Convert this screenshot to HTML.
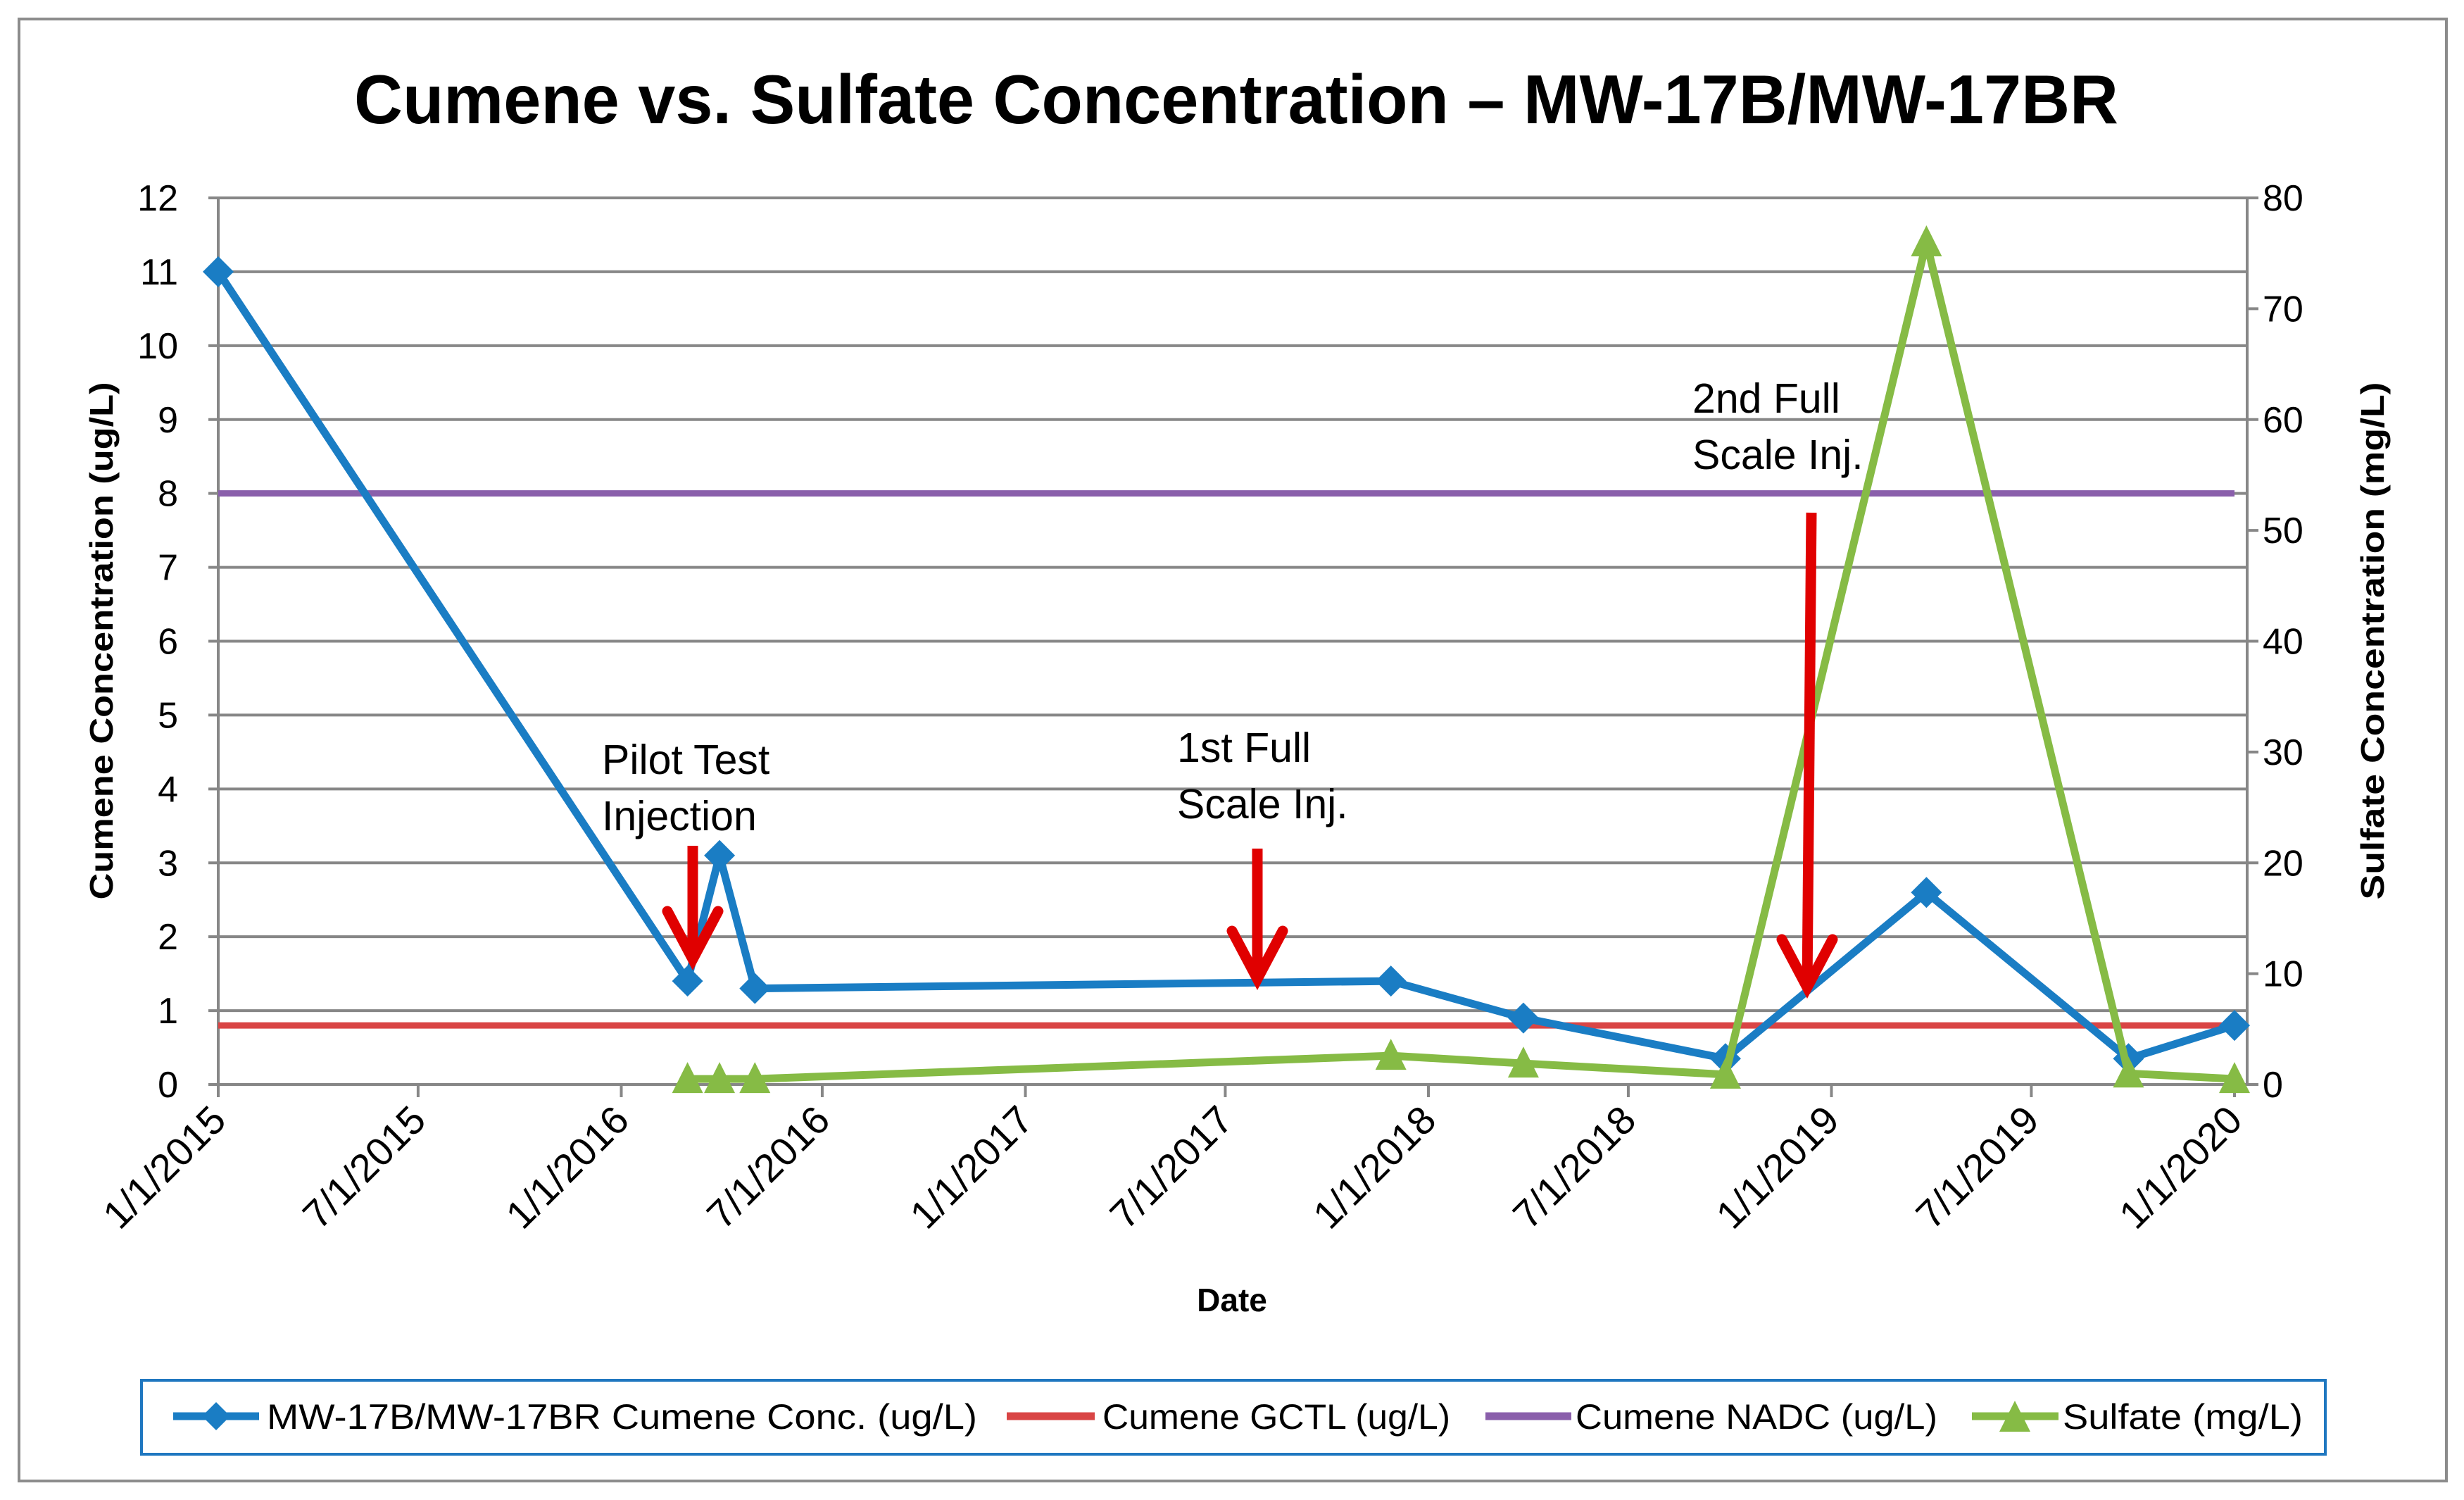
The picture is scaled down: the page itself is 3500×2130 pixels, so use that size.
<!DOCTYPE html>
<html><head><meta charset="utf-8"><style>
html,body{margin:0;padding:0;background:#fff;}
svg{display:block;font-family:"Liberation Sans",sans-serif;}
</style></head><body>
<svg id="chart" width="3500" height="2130" viewBox="0 0 3500 2130" xmlns="http://www.w3.org/2000/svg">
<rect x="27" y="27" width="3448" height="2076" fill="#fff" stroke="#8c8c8c" stroke-width="4"/>
<text x="1756" y="175" text-anchor="middle" font-size="98" font-weight="bold" textLength="2506" lengthAdjust="spacingAndGlyphs">Cumene vs. Sulfate Concentration – MW-17B/MW-17BR</text>
<g id="grid"></g>
<g id="axes"></g>
<g id="series"></g>
<g id="notes"></g>
<text transform="translate(160,910) rotate(-90)" text-anchor="middle" font-size="46" font-weight="bold" textLength="735" lengthAdjust="spacingAndGlyphs">Cumene Concentration (ug/L)</text>
<text transform="translate(3386,910) rotate(-90)" text-anchor="middle" font-size="46" font-weight="bold" textLength="735" lengthAdjust="spacingAndGlyphs">Sulfate Concentration (mg/L)</text>
<text x="1750" y="1862" text-anchor="middle" font-size="46" font-weight="bold">Date</text>
<g>
<rect x="201" y="1960" width="3102" height="105" fill="#fff" stroke="#1f77c0" stroke-width="4"/>
<g>
<line x1="246" y1="2011" x2="368" y2="2011" stroke="#1a7dc4" stroke-width="11"/>
<path d="M307 1991 L327 2011 L307 2031 L287 2011Z" fill="#1a7dc4"/>
<text x="379" y="2029" font-size="50" textLength="1009" lengthAdjust="spacingAndGlyphs">MW-17B/MW-17BR Cumene Conc. (ug/L)</text></g>
<g>
<line x1="1430" y1="2011" x2="1555" y2="2011" stroke="#d94545" stroke-width="11"/>
<text x="1566" y="2029" font-size="50" textLength="494" lengthAdjust="spacingAndGlyphs">Cumene GCTL (ug/L)</text></g>
<g>
<line x1="2110" y1="2011" x2="2232" y2="2011" stroke="#8a5fab" stroke-width="11"/>
<text x="2238" y="2029" font-size="50" textLength="514" lengthAdjust="spacingAndGlyphs">Cumene NADC (ug/L)</text></g>
<g>
<line x1="2801" y1="2011" x2="2924" y2="2011" stroke="#86bb45" stroke-width="11"/>
<path d="M2862 1989 L2884 2033 L2840 2033Z" fill="#86bb45"/>
<text x="2930" y="2029" font-size="50" textLength="341" lengthAdjust="spacingAndGlyphs">Sulfate (mg/L)</text></g>
</g>
</svg>
<script>
const cumeneDates = ["2015-01-01","2016-03-01","2016-03-30","2016-05-01","2017-11-28","2018-03-28","2018-09-27","2019-03-28","2019-09-27","2020-01-01"];
const cumeneValues = [11, 1.4, 3.1, 1.3, 1.4, 0.9, 0.35, 2.6, 0.35, 0.8];
const sulfateDates = ["2016-03-01","2016-03-30","2016-05-01","2017-11-28","2018-03-28","2018-09-27","2019-03-28","2019-09-27","2020-01-01"];
const sulfateValues = [0.5, 0.5, 0.5, 2.6, 1.9, 0.9, 76, 1.0, 0.5];
const gctlValue = 0.8;
const nadcValue = 8;
const leftTicks = [0,1,2,3,4,5,6,7,8,9,10,11,12];
const rightTicks = [0,10,20,30,40,50,60,70,80];
const xTickDates = ["2015-01-01","2015-07-01","2016-01-01","2016-07-01","2017-01-01","2017-07-01","2018-01-01","2018-07-01","2019-01-01","2019-07-01","2020-01-01"];
const xTickLabels = ["1/1/2015","7/1/2015","1/1/2016","7/1/2016","1/1/2017","7/1/2017","1/1/2018","7/1/2018","1/1/2019","7/1/2019","1/1/2020"];

const NS="http://www.w3.org/2000/svg";
const X0=310, X1=3174, XEND=3192, YB=1540, YT=281;
const t0=Date.parse("2015-01-01"), t1=Date.parse("2020-01-01");
function xs(d){return X0+(Date.parse(d)-t0)/(t1-t0)*(X1-X0);}
function yl(v){return YB-v/12*(YB-YT);}
function yr(v){return YB-v/80*(YB-YT);}
function mk(tag,attrs,parent){const e=document.createElementNS(NS,tag);for(const k in attrs)e.setAttribute(k,attrs[k]);parent.appendChild(e);return e;}
const grid=document.getElementById('grid'),axes=document.getElementById('axes'),ser=document.getElementById('series'),notes=document.getElementById('notes');

leftTicks.forEach(v=>{
  const g=mk('line',{x1:X0-14,x2:XEND,y1:yl(v),y2:yl(v),stroke:'#878787','stroke-width':4},grid);
  
  
  const t=mk('text',{x:253,y:yl(v)+18,'text-anchor':'end','font-size':52},axes);
  t.textContent=v;
  
  
});
rightTicks.forEach(v=>{
  const l=mk('line',{x1:XEND,x2:XEND+16,y1:yr(v),y2:yr(v),stroke:'#878787','stroke-width':4},axes);
  
  
  const t=mk('text',{x:3214,y:yr(v)+18,'font-size':52},axes);
  t.textContent=v;
  
  
});
let a=mk('line',{x1:X0,x2:X0,y1:YT,y2:YB+16,stroke:'#878787','stroke-width':4},axes);


a=mk('line',{x1:XEND,x2:XEND,y1:YT,y2:YB,stroke:'#878787','stroke-width':4},axes);


xTickDates.forEach((d,i)=>{
  const x=xs(d);
  const l=mk('line',{x1:x,x2:x,y1:YB,y2:YB+18,stroke:'#878787','stroke-width':4},axes);
  
  
  const t=mk('text',{transform:`translate(${x+14},${1594}) rotate(-45)`,'text-anchor':'end','font-size':56},axes);
  t.textContent=xTickLabels[i];
  
  
});

let h=mk('line',{x1:X0,x2:X1,y1:yl(nadcValue),y2:yl(nadcValue),stroke:'#8a5fab','stroke-width':9},ser);


h=mk('line',{x1:X0,x2:X1,y1:yl(gctlValue),y2:yl(gctlValue),stroke:'#d94545','stroke-width':9},ser);



let p=mk('polyline',{points:cumeneDates.map((d,i)=>xs(d)+','+yl(cumeneValues[i])).join(' '),fill:'none',stroke:'#1a7dc4','stroke-width':11,'stroke-linejoin':'round'},ser);


cumeneDates.forEach((d,i)=>{
  const x=xs(d),y=yl(cumeneValues[i]);
  const m=mk('path',{d:`M${x} ${y-22} L${x+22} ${y} L${x} ${y+22} L${x-22} ${y}Z`,fill:'#1a7dc4'},ser);
  
  
});
p=mk('polyline',{points:sulfateDates.map((d,i)=>xs(d)+','+yr(sulfateValues[i])).join(' '),fill:'none',stroke:'#86bb45','stroke-width':11,'stroke-linejoin':'round'},ser);


sulfateDates.forEach((d,i)=>{
  const x=xs(d),y=yr(sulfateValues[i]);
  const m=mk('path',{d:`M${x} ${y-24} L${x+22} ${y+20} L${x-22} ${y+20}Z`,fill:'#86bb45'},ser);
  
  
});

function arrow(x1,y1,x2,y2,name){
  const g=mk('g',{},notes);
  
  
  mk('line',{x1:x1,y1:y1,x2:x2,y2:y2,stroke:'#e00000','stroke-width':15},g);
  mk('polyline',{points:`${x2-36},${y2-68} ${x2},${y2} ${x2+36},${y2-68}`,fill:'none',stroke:'#e00000','stroke-width':15,'stroke-linecap':'round'},g);
}
arrow(984,1201,984,1362,'pilot-arrow');
arrow(1786,1205,1786,1390,'first-injection-arrow');
arrow(2573,728,2567,1402,'second-injection-arrow');
function note(x,y,lines,name){
  const t=mk('text',{x:x,'font-size':59},notes);
  
  
  lines.forEach((s,i)=>{const ts=mk('tspan',{x:x,y:y+i*80},t);ts.textContent=s;});
}
note(855,1099,["Pilot Test","Injection"],'pilot-test-label');
note(1672,1082,["1st Full","Scale Inj."],'first-injection-label');
note(2404,586,["2nd Full","Scale Inj."],'second-injection-label');
</script>
</body></html>
